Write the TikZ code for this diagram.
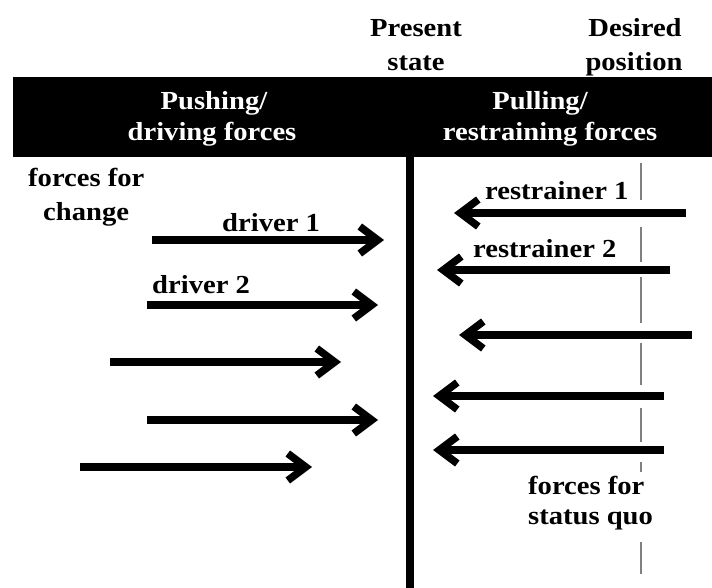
\documentclass[tikz,border=0pt]{standalone}
\usepackage{fontspec}
\setmainfont{Liberation Serif}[FakeStretch=1.1]
\usetikzlibrary{arrows.meta}
\begin{document}
\begin{tikzpicture}[x=1pt,y=-1pt,
  font=\fontsize{26}{30}\selectfont\bfseries,
  force/.style={line width=7.5pt,-{Straight Barb[length=18pt,width=27pt]}},
  lbl/.style={inner sep=0pt,anchor=base west},
  ctr/.style={inner sep=0pt,anchor=base},
  hdr/.style={inner sep=0pt,anchor=base,text=white},
  goal/.style={gray,line width=1.2pt}]
\useasboundingbox (0,0) rectangle (712,588);
% header band
\fill[black] (13,77) rectangle (712,157);
\node[hdr] (push1) at (214,110) {Pushing/};
\node[hdr] (push2) at (212,141) {driving forces};
\node[hdr] (pull1) at (540,110) {Pulling/};
\node[hdr] (pull2) at (550,141) {restraining forces};
% top labels
\node[ctr] (pres1) at (416,37) {Present};
\node[ctr] (pres2) at (416,71) {state};
\node[ctr] (des1) at (635,37) {Desired};
\node[ctr] (des2) at (634,71) {position};
% present state line
\coordinate (ps1) at (410,157);
\coordinate (ps2) at (410,588);
\draw[line width=8pt] (ps1) -- (ps2);
% desired position line (broken where arrows and text cross it)
\draw[goal] (641,163) -- (641,200);
\draw[goal] (641,227) -- (641,262);
\draw[goal] (641,277) -- (641,323);
\draw[goal] (641,343) -- (641,385);
\draw[goal] (641,408) -- (641,442);
\draw[goal] (641,462) -- (641,472);
\draw[goal] (641,542) -- (641,574);
% left labels
\node[lbl] (fc1) at (28,187) {forces for};
\node[lbl] (fc2) at (43,221) {change};
% driving forces
\coordinate (d1s) at (152,240); \coordinate (d1e) at (384,240);
\coordinate (d2s) at (147,305); \coordinate (d2e) at (378,305);
\coordinate (d3s) at (110,362); \coordinate (d3e) at (341,362);
\coordinate (d4s) at (147,420); \coordinate (d4e) at (378,420);
\coordinate (d5s) at (80,467);  \coordinate (d5e) at (312,467);
\draw[force] (d1s) -- (d1e);
\draw[force] (d2s) -- (d2e);
\draw[force] (d3s) -- (d3e);
\draw[force] (d4s) -- (d4e);
\draw[force] (d5s) -- (d5e);
\node[lbl] (dl1) at (222,232) {driver 1};
\node[lbl] (dl2) at (152,293) {driver 2};
% restraining forces
\coordinate (r1s) at (686,213); \coordinate (r1e) at (454,213);
\coordinate (r2s) at (670,270); \coordinate (r2e) at (437,270);
\coordinate (r3s) at (692,335); \coordinate (r3e) at (459,335);
\coordinate (r4s) at (664,396); \coordinate (r4e) at (433,396);
\coordinate (r5s) at (664,450); \coordinate (r5e) at (433,450);
\draw[force] (r1s) -- (r1e);
\draw[force] (r2s) -- (r2e);
\draw[force] (r3s) -- (r3e);
\draw[force] (r4s) -- (r4e);
\draw[force] (r5s) -- (r5e);
\node[lbl] (rl1) at (485,200) {restrainer 1};
\node[lbl] (rl2) at (473,258) {restrainer 2};
% right labels
\node[lbl] (sq1) at (528,494) {forces for};
\node[lbl] (sq2) at (528,524) {status quo};
\end{tikzpicture}
\end{document}
